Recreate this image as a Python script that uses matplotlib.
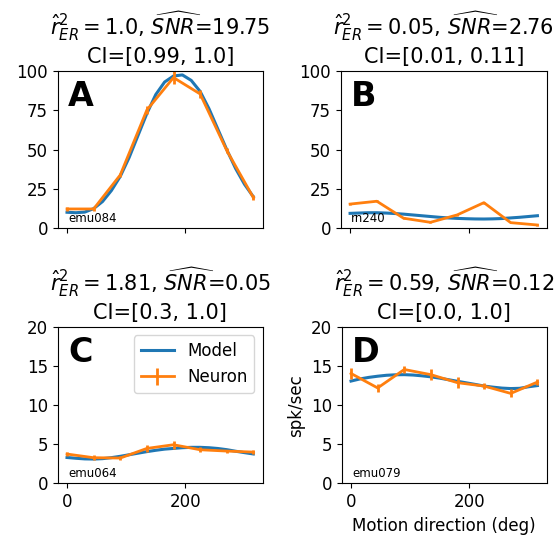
import matplotlib
matplotlib.use("Agg")
import matplotlib.pyplot as plt

directions = [0, 45, 90, 135, 180, 225, 270, 315]
model_dirs = [0, 15, 30, 45, 60, 75, 90, 105, 120, 135, 150, 165, 180, 195, 210, 225,
              240, 255, 270, 285, 300, 315]

# Panel A
neuron_A = [12.3, 12.3, 33.9, 75.2, 95.8, 85.4, 49.5, 19.5]
err_A = [1.0, 1.0, 1.0, 2.5, 3.9, 2.6, 1.5, 1.5]
model_A = [10.2, 9.9, 10.3, 12.5, 17.0, 24.0, 33.0, 45.0, 59.0, 73.0, 85.0, 93.0, 96.8,
           97.5, 94.0, 87.0, 76.0, 63.0, 50.0, 38.0, 28.0, 20.0]

# Panel B
neuron_B = [15.4, 17.2, 6.4, 3.8, 8.5, 16.3, 3.6, 2.1]
err_B = [0.5, 0.5, 0.5, 0.5, 0.5, 0.6, 0.4, 0.4]
model_B = [9.5, 9.7, 9.9, 9.9, 9.7, 9.4, 9.0, 8.5, 8.0, 7.5, 7.0, 6.6, 6.3, 6.1, 5.95,
           5.9, 6.0, 6.2, 6.6, 7.0, 7.5, 8.0]

# Panel C
neuron_C = [3.74, 3.27, 3.23, 4.46, 4.93, 4.29, 4.12, 3.99]
err_C = [0.3, 0.3, 0.3, 0.4, 0.5, 0.3, 0.2, 0.3]
model_C = [3.3, 3.2, 3.12, 3.1, 3.15, 3.28, 3.45, 3.65, 3.85, 4.05, 4.22, 4.37, 4.46,
           4.55, 4.6, 4.6, 4.55, 4.45, 4.3, 4.1, 3.92, 3.75]

# Panel D
neuron_D = [14.05, 12.2, 14.56, 13.9, 12.87, 12.44, 11.5, 12.95]
err_D = [0.7, 0.5, 0.5, 0.7, 0.7, 0.4, 0.5, 0.4]
model_D = [13.08, 13.35, 13.55, 13.7, 13.82, 13.88, 13.9, 13.85, 13.75, 13.62, 13.45,
           13.25, 13.05, 12.85, 12.65, 12.44, 12.3, 12.18, 12.12, 12.15, 12.35, 12.5]

letters = ["A", "B", "C", "D"]
cells = ["emu084", "rn240", "emu064", "emu079"]
r2 = ["1.0", "0.05", "1.81", "0.59"]
snr = ["19.75", "2.76", "0.05", "0.12"]
ci = ["[0.99, 1.0]", "[0.01, 0.11]", "[0.3, 1.0]", "[0.0, 1.0]"]
ylims = [(0, 100), (0, 100), (0, 20), (0, 20)]
yticks = [[0, 25, 50, 75, 100], [0, 25, 50, 75, 100], [0, 5, 10, 15, 20], [0, 5, 10, 15, 20]]
xticks = [0, 200]

neurons = [neuron_A, neuron_B, neuron_C, neuron_D]
errs = [err_A, err_B, err_C, err_D]
models = [model_A, model_B, model_C, model_D]

fig = plt.figure(figsize=(5.57, 5.41), dpi=100)
rects = [
    [0.1036, 0.578, 0.368, 0.2908],
    [0.6117, 0.578, 0.370, 0.2908],
    [0.1036, 0.1067, 0.368, 0.2889],
    [0.6135, 0.1067, 0.368, 0.2889],
]
blue = "#1f77b4"
orange = "#ff7f0e"
for i in range(4):
    ax = fig.add_axes(rects[i])
    ax.plot(model_dirs, models[i], color=blue, lw=2.2, label="Model")
    ax.errorbar(directions, neurons[i], yerr=errs[i], color=orange, lw=2, elinewidth=2, label="Neuron")
    ax.set_ylim(*ylims[i])
    ax.set_yticks(yticks[i])
    ax.set_xticks(xticks)
    ax.tick_params(labelsize=12)
    if i < 2:
        ax.set_xticklabels([])
    ax.set_title(r"$\hat{r}^2_{ER}=" + r2[i] + r"$, $\widehat{SNR}$=" + snr[i] + "\nCI=" + ci[i],
                 fontsize=15, linespacing=1.25)
    ax.text(0.05, 0.94, letters[i], transform=ax.transAxes, fontsize=24, fontweight="bold",
            va="top", ha="left")
    ax.text(0.05, 0.02, cells[i], transform=ax.transAxes, fontsize=8.5, va="bottom", ha="left")
    if i == 2:
        ax.legend(loc="upper right", fontsize=12)
    if i == 3:
        ax.set_ylabel("spk/sec", fontsize=12)
        ax.set_xlabel("Motion direction (deg)", fontsize=12)

fig.savefig("out.png", dpi=100)
